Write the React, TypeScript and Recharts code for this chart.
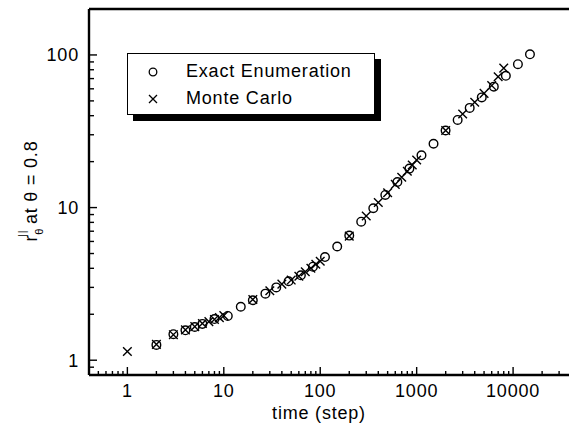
import React from 'react';
import { ScatterChart, Scatter, XAxis, YAxis, ReferenceLine } from 'recharts';

// exact enumeration (circles)
const exactTimes = [2, 3, 4, 5, 6, 8, 11, 15, 20, 27, 35, 47, 63, 84, 112, 150, 200, 266, 355, 473, 631, 841, 1122, 1496, 1995, 2661, 3548, 4732, 6310, 8414, 11220, 14962];
const exactR = [1.26, 1.48, 1.57, 1.65, 1.73, 1.86, 1.95, 2.24, 2.47, 2.73, 3.0, 3.29, 3.6, 4.1, 4.74, 5.56, 6.55, 8.08, 9.9, 12.1, 14.7, 18, 22, 26.2, 32, 37.5, 45, 52.7, 62, 73, 87, 101];

// monte carlo (crosses)
const mcTimes = [1, 2, 3, 4, 5, 6, 7, 8, 9, 10, 20, 30, 40, 50, 60, 70, 80, 90, 100, 200, 300, 400, 500, 600, 700, 800, 900, 1000, 2000, 3000, 4000, 5000, 6000, 7000, 8000];
const mcR = [1.14, 1.27, 1.47, 1.58, 1.66, 1.74, 1.79, 1.85, 1.9, 1.96, 2.5, 2.85, 3.15, 3.35, 3.55, 3.8, 4.0, 4.25, 4.45, 6.5, 8.8, 10.8, 12.5, 14.2, 15.8, 17.3, 19, 20.5, 32, 41, 49, 56, 63, 72, 82];

const xTicks = [0.5, 0.6, 0.7, 0.8, 0.9, 1, 2, 3, 4, 5, 6, 7, 8, 9, 10, 20, 30, 40, 50, 60, 70, 80, 90, 100, 200, 300, 400, 500, 600, 700, 800, 900, 1000, 2000, 3000, 4000, 5000, 6000, 7000, 8000, 9000, 10000, 20000, 30000];
const yTicks = [0.9, 1, 2, 3, 4, 5, 6, 7, 8, 9, 10, 20, 30, 40, 50, 60, 70, 80, 90, 100, 200];
const majorTicks = [1, 10, 100, 1000, 10000];

const exactData = exactTimes.map((t, i) => ({ t, r: exactR[i] }));
const mcData = mcTimes.map((t, i) => ({ t, r: mcR[i] }));

const FONT = '"Liberation Sans", Arial, sans-serif';
const FS = 18;
const LS = 0.8;

const XTick = ({ x, y, payload }: any) => {
  const major = majorTicks.includes(payload.value);
  return (
    <g>
      <line x1={x} x2={x} y1={y} y2={y - (major ? 8 : 4)} stroke="#000" strokeWidth={1.4} />
      {major && (
        <text x={x} y={y + 22} textAnchor="middle" fontSize={FS} letterSpacing={LS} fontFamily={FONT} fill="#000">
          {payload.value}
        </text>
      )}
    </g>
  );
};

const YTick = ({ x, y, payload }: any) => {
  const major = majorTicks.includes(payload.value);
  return (
    <g>
      <line x1={x} x2={x + (major ? 8 : 5)} y1={y} y2={y} stroke="#000" strokeWidth={1.4} />
      {major && (
        <text x={x - 10} y={y + 6.5} textAnchor="end" fontSize={FS} letterSpacing={LS} fontFamily={FONT} fill="#000">
          {payload.value}
        </text>
      )}
    </g>
  );
};

const Circle = ({ cx, cy }: any) => (
  <circle cx={cx} cy={cy} r={4.3} fill="none" stroke="#000" strokeWidth={1.4} />
);

const Cross = ({ cx, cy }: any) => (
  <path d={`M${cx - 4.3},${cy - 4.3}L${cx + 4.3},${cy + 4.3}M${cx - 4.3},${cy + 4.3}L${cx + 4.3},${cy - 4.3}`} stroke="#000" strokeWidth={1.4} />
);

const YTitle = () => (
  <text transform="translate(37,191) rotate(-90)" textAnchor="middle" fontSize={FS} letterSpacing={LS} fontFamily={FONT} fill="#000">
    <tspan>r</tspan>
    <tspan fontSize={11} dy={6}>θ</tspan>
    <tspan fontSize={10} dx={-9} dy={-17}>||</tspan>
    <tspan dy={11}> at θ = 0.8</tspan>
  </text>
);

const XTitle = () => (
  <text x={319} y={419} textAnchor="middle" fontSize={FS} letterSpacing={LS} fontFamily={FONT} fill="#000">
    time (step)
  </text>
);

export default function App() {
  return (
    <div style={{ position: 'relative', width: 569, height: 432, background: '#fff' }}>
      <style>{`body{margin:0;}`}</style>
      <ScatterChart width={569} height={432} margin={{ top: 9, right: 0, bottom: 0, left: 0 }}>
        <XAxis
          type="number"
          dataKey="t"
          scale="log"
          domain={[0.4, 38000]}
          allowDataOverflow
          ticks={xTicks}
          interval={0}
          tick={<XTick />}
          tickSize={0}
          tickMargin={0}
          tickLine={false}
          height={57}
          axisLine={{ stroke: '#000', strokeWidth: 2.4 }}
          label={{ content: () => <XTitle /> }}
        />
        <YAxis
          type="number"
          dataKey="r"
          scale="log"
          domain={[0.8, 200]}
          allowDataOverflow
          ticks={yTicks}
          interval={0}
          tick={<YTick />}
          tickSize={0}
          tickMargin={0}
          tickLine={false}
          width={89}
          axisLine={{ stroke: '#000', strokeWidth: 2.4 }}
          label={{ content: () => <YTitle /> }}
        />
        <ReferenceLine y={200} stroke="#000" strokeWidth={2.4} />
        <Scatter name="Exact Enumeration" data={exactData} shape={<Circle />} isAnimationActive={false} />
        <Scatter name="Monte Carlo" data={mcData} shape={<Cross />} isAnimationActive={false} />
      </ScatterChart>
      <div
        style={{
          position: 'absolute',
          left: 127,
          top: 53,
          width: 246,
          height: 60,
          border: '1px solid #000',
          background: '#fff',
          boxShadow: '6px 6px 0 #000',
          fontFamily: FONT,
          fontSize: FS,
          letterSpacing: LS,
          color: '#000',
        }}
      >
        <svg width={50} height={60} style={{ position: 'absolute', left: 0, top: 0 }}>
          <circle cx={25} cy={18} r={3.8} fill="none" stroke="#000" strokeWidth={1.3} />
          <path d="M21,41L29,49M21,49L29,41" stroke="#000" strokeWidth={1.3} />
        </svg>
        <div style={{ position: 'absolute', left: 58, top: 7, whiteSpace: 'nowrap' }}>Exact Enumeration</div>
        <div style={{ position: 'absolute', left: 58, top: 34, whiteSpace: 'nowrap' }}>Monte Carlo</div>
      </div>
    </div>
  );
}
